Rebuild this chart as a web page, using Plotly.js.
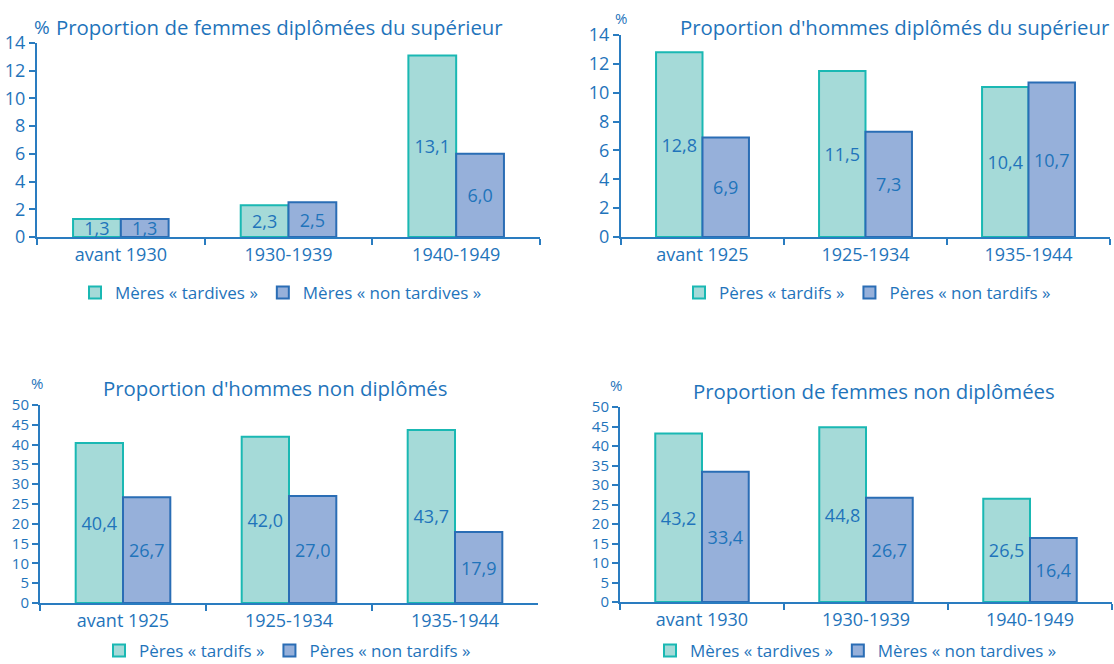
<!DOCTYPE html>
<html>
<head>
<meta charset="utf-8">
<script src="https://cdn.plot.ly/plotly-3.0.1.min.js"></script>
<style>html,body{margin:0;padding:0;background:#fff;}#chart{width:1114px;height:664px;}</style>
</head>
<body>
<div id="chart"></div>
<script>
// ---- Data ----
const catsA = ['avant 1930', '1930-1939', '1940-1949'];
const catsB = ['avant 1925', '1925-1934', '1935-1944'];

const femSupTardives = [1.3, 2.3, 13.1];
const femSupNonTardives = [1.3, 2.5, 6.0];

const homSupTardifs = [12.8, 11.5, 10.4];
const homSupNonTardifs = [6.9, 7.3, 10.7];

const homNonDipTardifs = [40.4, 42.0, 43.7];
const homNonDipNonTardifs = [26.7, 27.0, 17.9];

const femNonDipTardives = [43.2, 44.8, 26.5];
const femNonDipNonTardives = [33.4, 26.7, 16.4];

const namesMeres = ['Mères « tardives »', 'Mères « non tardives »'];
const namesPeres = ['Pères « tardifs »', 'Pères « non tardifs »'];

const titles = [
  'Proportion de femmes diplômées du supérieur',
  "Proportion d'hommes diplômés du supérieur",
  "Proportion d'hommes non diplômés",
  'Proportion de femmes non diplômées'
];

// ---- Styles ----
const FONT = 'Open Sans, sans-serif';
const BLUE = '#1f74bb';
const AXIS = '#2a7cc0';
const lightFill = '#a5dad8', lightLine = '#1ab8b3';
const darkFill = '#96b0da', darkLine = '#2a6db5';

const fmt = v => v.toFixed(1).replace('.', ',');

function pair(cats, a, b, names, idx) {
  const sfx = idx === 1 ? '' : String(idx);
  const common = {
    type: 'bar', x: cats, xaxis: 'x' + sfx, yaxis: 'y' + sfx,
    legend: 'legend' + sfx,
    textposition: 'inside', insidetextanchor: 'middle', constraintext: 'none',
    textfont: {family: FONT, size: 18, color: BLUE},
    hoverinfo: 'x+y', cliponaxis: false
  };
  return [
    Object.assign({}, common, {
      name: names[0], y: a, text: a.map(fmt),
      marker: {color: lightFill, line: {color: lightLine, width: 2}}
    }),
    Object.assign({}, common, {
      name: names[1], y: b, text: b.map(fmt),
      marker: {color: darkFill, line: {color: darkLine, width: 2}}
    })
  ];
}

const data = [].concat(
  pair(catsA, femSupTardives, femSupNonTardives, namesMeres, 1),
  pair(catsB, homSupTardifs, homSupNonTardifs, namesPeres, 2),
  pair(catsB, homNonDipTardifs, homNonDipNonTardifs, namesPeres, 3),
  pair(catsA, femNonDipTardives, femNonDipNonTardives, namesMeres, 4)
);

const W = 1114, H = 664;
const px = x => x / W;
const py = y => 1 - y / H;

function xax(x0, x1, anchor) {
  return {
    domain: [px(x0), px(x1)], anchor: anchor, type: 'category',
    showline: true, linecolor: AXIS, linewidth: 2,
    ticks: 'outside', tickson: 'boundaries', ticklen: 6, tickcolor: AXIS, tickwidth: 2,
    tickfont: {family: FONT, size: 18, color: BLUE},
    showgrid: false, zeroline: false, fixedrange: true, automargin: false
  };
}
function yax(y0, y1, max, dt, anchor, fs) {
  return {
    domain: [py(y1), py(y0)], anchor: anchor, range: [0, max], dtick: dt,
    showline: true, linecolor: AXIS, linewidth: 2,
    ticks: 'outside', ticklen: 6, tickcolor: AXIS, tickwidth: 2,
    tickfont: {family: FONT, size: fs, color: BLUE},
    showgrid: false, zeroline: false, fixedrange: true, automargin: false
  };
}
function leg(x, y) {
  return {
    orientation: 'h', x: px(x), y: py(y), xanchor: 'left', yanchor: 'middle',
    font: {family: FONT, size: 17, color: BLUE}, bgcolor: 'rgba(0,0,0,0)',
    itemwidth: 30, traceorder: 'normal', tracegroupgap: 0, borderwidth: 0
  };
}
function ann(text, x, y, size) {
  return {text: text, x: px(x), y: py(y), xref: 'paper', yref: 'paper',
    xanchor: 'left', yanchor: 'middle', showarrow: false,
    font: {family: FONT, size: size, color: BLUE}};
}

const layout = {
  width: W, height: H,
  margin: {l: 0, r: 0, t: 0, b: 0, autoexpand: false},
  paper_bgcolor: '#fff', plot_bgcolor: '#fff',
  barmode: 'group', bargap: 0.43, bargroupgap: 0,
  font: {family: FONT, color: BLUE},
  xaxis: xax(37, 540, 'y'), yaxis: yax(43, 237, 14, 2, 'x', 18),
  xaxis2: xax(621, 1110, 'y2'), yaxis2: yax(35, 237, 14, 2, 'x2', 18),
  xaxis3: xax(40, 538, 'y3'), yaxis3: yax(405, 603, 50, 5, 'x3', 15),
  xaxis4: xax(620, 1112, 'y4'), yaxis4: yax(407, 602, 50, 5, 'x4', 15),
  legend: leg(75, 293), legend2: leg(679, 293), legend3: leg(99, 651), legend4: leg(650, 651),
  annotations: [
    ann('%', 32, 27, 19),
    ann(titles[0], 54, 27, 20.4),
    ann(titles[1], 678, 27, 20.4),
    ann('%', 613, 18, 15),
    ann(titles[2], 101, 388, 20.4),
    ann('%', 29, 383, 15),
    ann(titles[3], 691, 391, 20.4),
    ann('%', 608, 385, 15)
  ],
  showlegend: true
};

Plotly.newPlot('chart', data, layout, {displayModeBar: false, staticPlot: true});
</script>
</body>
</html>
